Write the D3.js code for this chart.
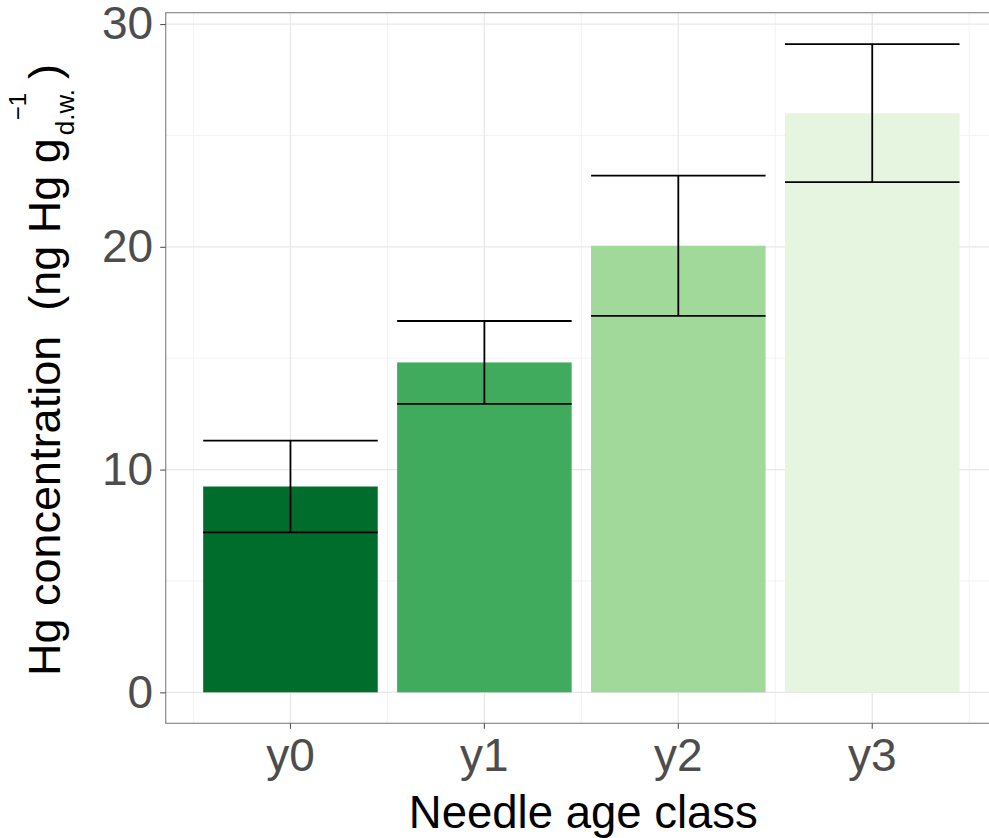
<!DOCTYPE html>
<html>
<head>
<meta charset="utf-8">
<script src="https://cdn.jsdelivr.net/npm/d3@7"></script>
<style>
  html, body { margin: 0; padding: 0; background: #fff; }
  svg { display: block; font-family: "Liberation Sans", Arial, sans-serif; }
  text { white-space: pre; }
</style>
</head>
<body>
<svg id="chart" width="989" height="838"></svg>
<script>
// ---- data ----
const categories = ["y0", "y1", "y2", "y3"];
const means = [9.24, 14.81, 20.05, 26.0];
const errors = [2.06, 1.86, 3.15, 3.1];
const barColors = ["#006d2c", "#41ab5d", "#a1d99b", "#e5f5e0"];
const yTicks = [0, 10, 20, 30];
const yMinorTicks = [5, 15, 25];
const xTitle = "Needle age class";
const yTitleMain = "Hg concentration  (ng Hg g";
const yTitleSup = "\u22121";
const yTitleSub = "d.w.";
const yTitleEnd = ")";

// ---- layout ----
const panel = { left: 165.7, right: 997, top: 12.7, bottom: 723.3 };
const svg = d3.select("#chart");

const y = d3.scaleLinear().domain([-1.39, 30.51]).range([panel.bottom, panel.top]);
const x = d3.scaleBand().domain(categories).range([193.5, 969.2]).padding(0);
const barW = x.bandwidth() * 0.9;

// grid
const g = svg.append("g");
g.selectAll(".hminor").data(yMinorTicks).join("line")
  .attr("x1", panel.left).attr("x2", panel.right)
  .attr("y1", d => y(d)).attr("y2", d => y(d))
  .attr("stroke", "#f0f0f0").attr("stroke-width", 0.8);
const vMinor = categories.map(c => x(c)).concat([x(categories[categories.length - 1]) + x.step()]);
g.selectAll(".vminor").data(vMinor).join("line")
  .attr("x1", d => d).attr("x2", d => d)
  .attr("y1", panel.top).attr("y2", panel.bottom)
  .attr("stroke", "#f0f0f0").attr("stroke-width", 0.8);
g.selectAll(".hmajor").data(yTicks).join("line")
  .attr("x1", panel.left).attr("x2", panel.right)
  .attr("y1", d => y(d)).attr("y2", d => y(d))
  .attr("stroke", "#e8e8e8").attr("stroke-width", 1.3);
g.selectAll(".vmajor").data(categories).join("line")
  .attr("x1", d => x(d) + x.bandwidth() / 2).attr("x2", d => x(d) + x.bandwidth() / 2)
  .attr("y1", panel.top).attr("y2", panel.bottom)
  .attr("stroke", "#e8e8e8").attr("stroke-width", 1.3);

// bars
svg.append("g").selectAll("rect").data(categories).join("rect")
  .attr("x", d => x(d) + (x.bandwidth() - barW) / 2)
  .attr("width", barW)
  .attr("y", (d, i) => y(means[i]))
  .attr("height", (d, i) => y(0) - y(means[i]))
  .attr("fill", (d, i) => barColors[i]);

// error bars
const eb = svg.append("g").attr("stroke", "#000").attr("stroke-width", 1.8).attr("fill", "none");
categories.forEach((c, i) => {
  const cx = x(c) + x.bandwidth() / 2;
  const x0 = cx - barW / 2, x1 = cx + barW / 2;
  const lo = y(means[i] - errors[i]), hi = y(means[i] + errors[i]);
  eb.append("line").attr("x1", x0).attr("x2", x1).attr("y1", hi).attr("y2", hi);
  eb.append("line").attr("x1", x0).attr("x2", x1).attr("y1", lo).attr("y2", lo);
  eb.append("line").attr("x1", cx).attr("x2", cx).attr("y1", hi).attr("y2", lo);
});

// panel border
svg.append("rect")
  .attr("x", panel.left).attr("y", panel.top)
  .attr("width", panel.right - panel.left).attr("height", panel.bottom - panel.top)
  .attr("fill", "none").attr("stroke", "#8a8a8a").attr("stroke-width", 1.2);

// axes
const yAxis = d3.axisLeft(y).tickValues(yTicks).tickSize(5.5).tickPadding(7).tickFormat(d3.format("d"));
const ya = svg.append("g").attr("transform", `translate(${panel.left},0)`).call(yAxis);
ya.select(".domain").remove();
ya.selectAll(".tick line").attr("stroke", "#555").attr("stroke-width", 1.1);
ya.selectAll(".tick text").attr("fill", "#4d4d4d").attr("font-size", 46)
  .attr("font-family", "Liberation Sans, Arial, sans-serif");

const xAxis = d3.axisBottom(x).tickSize(5.5).tickPadding(10);
const xa = svg.append("g").attr("transform", `translate(0,${panel.bottom})`).call(xAxis);
xa.select(".domain").remove();
xa.selectAll(".tick line").attr("stroke", "#555").attr("stroke-width", 1.1);
xa.selectAll(".tick text").attr("fill", "#4d4d4d").attr("font-size", 46)
  .attr("font-family", "Liberation Sans, Arial, sans-serif");

// x title
svg.append("text")
  .attr("x", (panel.left + panel.right) / 2 + 2).attr("y", 828)
  .attr("text-anchor", "middle").attr("font-size", 45.5).attr("fill", "#000")
  .text(xTitle);

// y title (rotated, built from parts)
const yt = svg.append("g").attr("transform", "translate(60,676) rotate(-90)");
const main = yt.append("text").attr("x", 0).attr("y", 0)
  .attr("font-size", 45).attr("fill", "#000").text(yTitleMain);
const L = main.node().getComputedTextLength();
const sub = yt.append("text").attr("x", L + 3).attr("y", 14)
  .attr("font-size", 26).attr("fill", "#000").text(yTitleSub);
const subL = sub.node().getComputedTextLength();
yt.append("text").attr("x", L + 18).attr("y", -34)
  .attr("font-size", 24).attr("fill", "#000").text(yTitleSup);
yt.append("text").attr("x", L + 3 + subL + 10).attr("y", 0)
  .attr("font-size", 45).attr("fill", "#000").text(yTitleEnd);
</script>
</body>
</html>
